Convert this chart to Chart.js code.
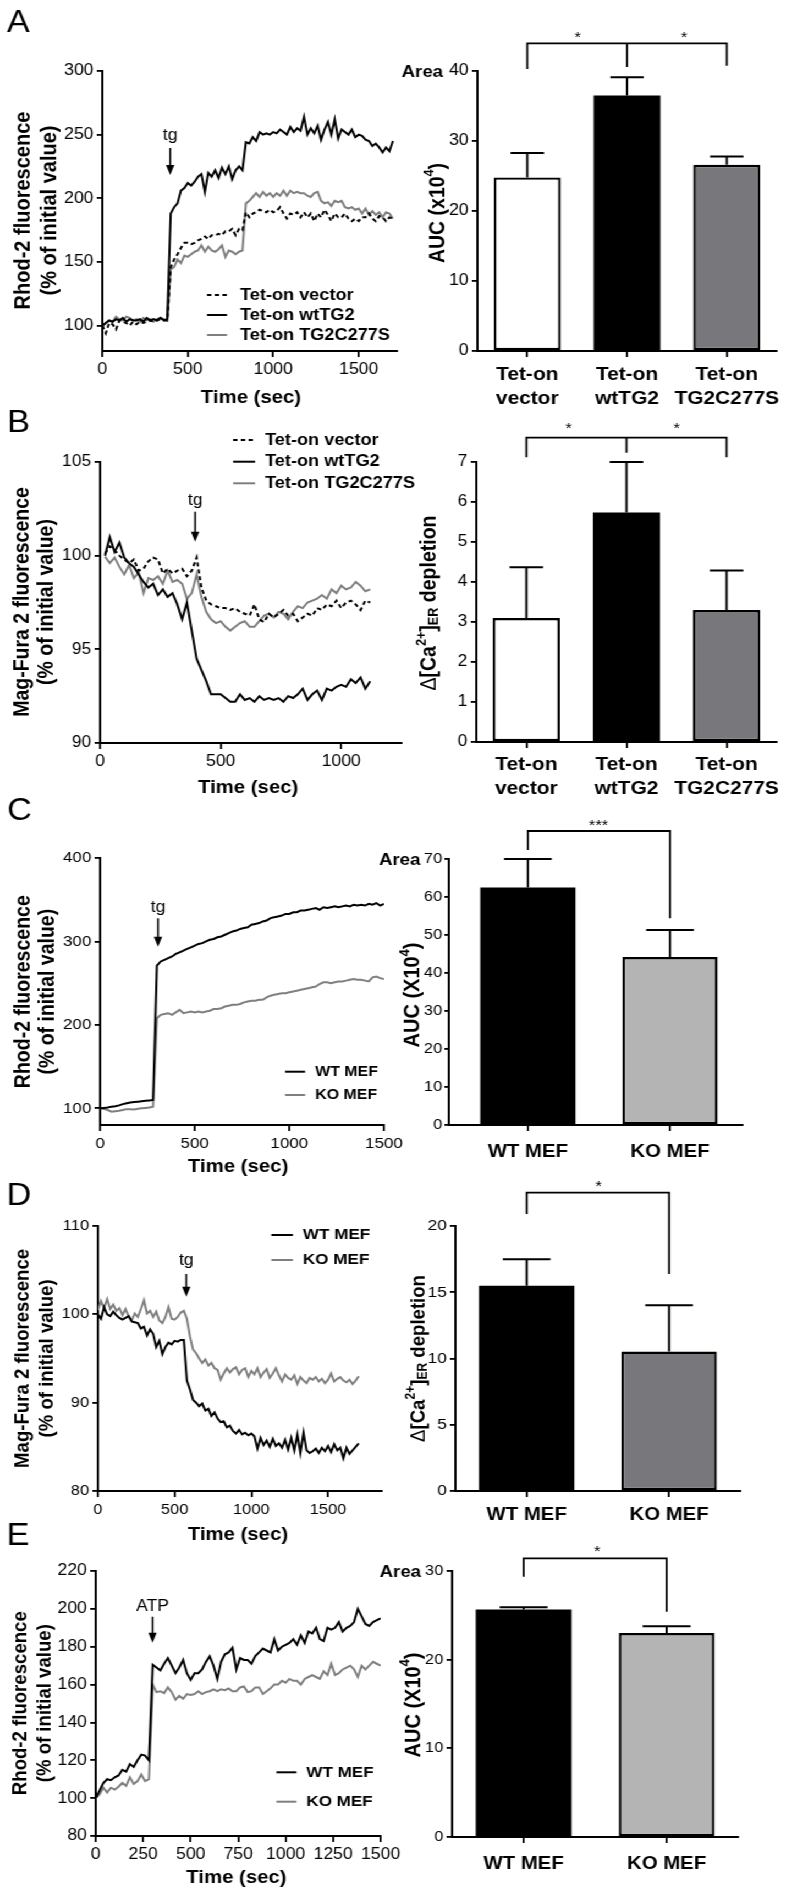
<!DOCTYPE html>
<html><head><meta charset="utf-8">
<script src="https://cdn.jsdelivr.net/npm/chart.js@4.4.1/dist/chart.umd.min.js"></script>
<style>
html,body{margin:0;padding:0;background:#fff;overflow:hidden;width:786px;height:1894px;}
#wrap{position:absolute;left:0;top:0;width:715px;height:1894px;transform:scaleX(1.1);transform-origin:0 0;}
#wrap canvas{position:absolute;}
</style></head><body><div id="wrap"></div>
<script>
// ---------------- DATA ----------------
// Panel A : Rhod-2, Tet-on lines (time from 0 s, every 20 s)
const tStartA = 0, tStepA = 20;
const vectorA = [100,94,102,101,97,104,103,102,100,103,101,103,102,103,104,103,104,105,104,104,146,152,156,161,165,165,164,165,167,168,170,168,171,171,172,171,174,174,176,171,176,175,189,185,188,189,191,190,189,191,189,190,193,188,184,188,187,189,185,189,185,188,182,188,185,191,187,182,188,185,185,188,184,182,184,182,185,185,188,184,182,186,185,182,185,184];
const wtA = [100,102,104,103,105,104,106,103,105,104,104,105,103,106,104,105,104,106,104,105,188,193,196,206,208,212,210,213,217,219,205,220,217,222,216,224,219,225,215,222,225,222,244,243,248,245,252,250,251,250,252,251,254,252,250,256,252,255,253,264,250,255,251,257,246,254,260,250,262,247,254,252,250,254,248,250,249,246,245,241,243,240,236,240,237,245];
const mutA = [99,102,104,103,107,105,104,107,106,104,105,103,106,104,105,103,105,106,105,104,144,146,152,149,155,154,156,158,159,163,158,162,159,158,160,163,154,159,158,156,158,159,196,198,201,204,201,205,202,204,201,204,202,206,202,206,204,205,204,204,202,201,204,205,198,196,197,194,198,197,198,193,192,193,191,192,188,192,187,190,187,189,185,189,188,184];
// Panel B : Mag-Fura 2, Tet-on lines (time from 20 s, every 20 s)
const tStartB = 20, tStepB = 20;
const vectorB = [100.1,100.5,100.3,100.0,99.8,99.6,99.8,99.2,99.3,99.7,99.9,99.8,99.05,99.3,99.05,99.2,99.3,98.9,99.2,99.9,98.3,97.6,97.4,97.3,97.2,97.2,97.1,97.2,97.0,96.9,96.8,97.4,96.6,96.45,96.9,96.7,96.9,97.1,96.8,96.9,96.5,96.7,96.9,96.8,97.2,97.1,97.4,97.3,97.6,97.2,97.5,97.6,97.4,97.1,97.6,97.5];
const wtB = [100.0,101.0,100.2,100.7,99.9,99.6,99.4,99.0,98.6,98.3,98.5,97.9,98.2,97.8,98.0,97.4,96.6,97.5,96.0,94.5,93.9,93.3,92.6,92.6,92.6,92.4,92.2,92.2,92.6,92.3,92.4,92.2,92.5,92.3,92.4,92.3,92.4,92.2,92.5,92.4,92.6,92.9,92.3,92.6,92.8,92.3,92.9,92.8,93.0,93.1,93.0,93.4,93.2,93.5,92.9,93.3];
const mutB = [99.95,99.6,99.9,99.4,99.0,99.5,98.8,99.1,98.0,98.8,98.7,98.9,98.5,99.2,98.6,98.7,98.5,97.7,98.0,99.0,97.8,97.0,96.6,96.4,96.5,96.2,96.0,96.2,96.4,96.5,96.2,96.2,96.5,96.8,96.9,96.7,97.0,96.9,96.6,97.0,97.3,97.2,97.5,97.6,97.7,97.9,97.7,98.2,98.0,98.4,98.2,98.3,98.6,98.4,98.1,98.2];
// Panel C : Rhod-2, MEF (time from 0 s, every 20 s)
const tStartC = 0, tStepC = 20;
const wtC = [100,100.5,101,102,102.5,103.5,105,106,107,107.5,108,108.5,109,109.5,110,271,276,278,280,282,285,287,289,291,293,295,297,298,300,302,303,305,306,308,310,312,313,315,316,317,320,321,322,324,325,328,329,330,331,333,333,335,335,337,337,338,339,340,338,341,340,341,342,341,342,343,342,344,343,344,343,345,344,346,343,345];
const koC = [100,99,98,96,96.5,97,98,99,99,98.5,99.5,100,100.5,101,102,208,212,213,214,212,215,218,214,215,216,215,216,215,216,217,219,219,220,222,223,224,224,225,227,228,229,229,230,230,233,235,236,237,238,238,239,240,241,242,243,244,245,246,249,251,251,250,251,252,252,253,254,255,254,254,253,252,257,258,256,255];
// Panel D : Mag-Fura 2, MEF (time from 0 s, every 20 s)
const tStartD = 0, tStepD = 20;
const wtD = [100.0,99.5,100.8,100.0,99.8,100.3,99.9,99.6,99.4,99.6,99.8,99.2,99.1,99.0,98.4,98.6,97.6,98.3,97.8,96.3,97.0,95.5,96.3,96.8,96.6,97.0,96.9,97.1,97.1,92.5,91.5,90.3,90.0,89.6,89.9,89.1,89.3,88.5,88.9,88.2,87.8,87.9,87.2,87.4,86.8,86.5,86.9,86.4,86.6,86.3,86.5,86.2,84.8,86.0,85.2,85.7,85.0,85.9,85.1,85.4,84.9,85.8,84.7,86.0,84.6,86.4,84.3,86.6,84.6,84.3,84.5,84.8,84.3,84.9,84.5,85.1,84.4,85.3,84.6,84.9,83.7,84.9,84.2,84.6,85.0,85.4];
const koD = [100.5,101.5,100.7,101.7,100.6,101.1,100.4,100.7,99.9,100.6,99.8,99.3,100.1,99.7,100.6,101.6,100.1,100.4,99.7,100.3,99.3,99.0,99.7,100.8,99.5,99.4,99.7,100.2,100.4,99.5,97.5,96.0,95.6,95.0,94.5,94.9,94.2,94.5,93.9,93.7,92.6,93.3,93.9,93.4,93.8,94.0,93.2,93.7,93.9,92.9,93.6,93.2,93.9,92.9,93.4,93.8,92.8,93.3,93.9,93.1,92.4,93.2,92.8,92.6,93.1,92.1,92.9,92.5,92.2,92.8,92.6,92.9,92.4,92.7,92.2,92.6,93.3,92.4,92.7,92.9,92.5,92.3,92.6,92.1,92.5,93.0];
// Panel E : Rhod-2, ATP, MEF (time from 0 s, every 20 s)
const tStartE = 0, tStepE = 20;
const wtE = [100,104,108,110,109.5,111,112,115,114,118,116.5,120,123,122.5,120,170.5,169,167.5,171,174,170,166,169,173,166,162.5,166,166,168,172,175,170,163,172,176,177,179.5,168,174,173,173,171,175,177,179,178,177,184,178,180,181,182,184,181,186,182,188,187,190,184,183,190,189,190,193,188,190,191,193,200,196,192,191,193,194,195];
const koE = [100,102,105.5,103,105.5,104.5,106,108,106.5,111,107.5,109,112.5,109,110,160,156,156.5,155.5,158.5,156,152,154,152.5,155,154.5,155,156.5,155,156,156.5,157.5,156.5,157.5,157,158,156.5,156.5,158.5,159,156,156.5,158.5,158.5,155,156.5,158,160,160,162,161,163,162,162,160,163,164,165,164,163,167,165,171,165,166,168,169,170,168,164,170,168,170,172,171,170];

// Bar data
const catsTet = [['Tet-on','vector'],['Tet-on','wtTG2'],['Tet-on','TG2C277S']];
const catsMEF = ['WT MEF','KO MEF'];
const aucA = [24.8, 36.5, 26.6];      const aucAErr = [3.5, 2.6, 1.2];
const depB = [3.1, 5.74, 3.3];        const depBErr = [1.27, 1.26, 0.99];
const aucC = [62.5, 44.2];            const aucCErr = [7.5, 7.1];
const depD = [15.5, 10.52];           const depDErr = [2.0, 3.5];
const aucE = [25.67, 23.0];           const aucEErr = [0.23, 0.78];

// Tick values
const xTicksA = [0,500,1000,1500], yTicksA = [100,150,200,250,300];
const xTicksB = [0,500,1000],      yTicksB = [90,95,100,105];
const xTicksC = [0,500,1000,1500], yTicksC = [100,200,300,400];
const xTicksD = [0,500,1000,1500], yTicksD = [80,90,100,110];
const xTicksE = [0,250,500,750,1000,1250,1500], yTicksE = [80,100,120,140,160,180,200,220];
const yTicksAbar = [0,10,20,30,40], yTicksBbar = [0,1,2,3,4,5,6,7], yTicksCbar = [0,10,20,30,40,50,60,70];
const yTicksDbar = [0,5,10,15,20], yTicksEbar = [0,10,20,30];

// ---------------- RENDER ----------------
const SX = 1.1;
const FF = '"Liberation Sans", Arial, Helvetica, sans-serif';
Chart.defaults.font.family = FF;
Chart.defaults.color = '#000';
const BLACK = '#000000', GRAY = '#7f7f7f';
const PL = 95, PR = 32, PT = 72, PB = 64;

function series(vals, t0, dt) { return vals.map((v, i) => ({x: t0 + i * dt, y: v})); }

function drawText(ctx, t, P, Q) {
  const runs = t.runs || [{s: t.s}];
  const fontOf = r => `${r.w || t.w || 'normal'} ${(r.sup || r.sub) ? t.size * 0.65 : t.size}px ${FF}`;
  let total = 0;
  runs.forEach(r => { ctx.font = fontOf(r); r._w = ctx.measureText(r.s).width; total += r._w; });
  ctx.save();
  ctx.translate(P(t.x), Q(t.y));
  if (t.rot) ctx.rotate(-Math.PI / 2);
  ctx.textBaseline = t.base || 'middle';
  ctx.textAlign = 'left';
  ctx.fillStyle = '#000';
  let x0 = t.align === 'left' ? 0 : t.align === 'right' ? -total : -total / 2;
  runs.forEach(r => {
    ctx.font = fontOf(r);
    const dy = r.sup ? -t.size * 0.38 : r.sub ? t.size * 0.22 : 0;
    ctx.fillText(r.s, x0, dy);
    x0 += r._w;
  });
  ctx.restore();
}

const deco = {
  id: 'deco',
  afterDraw(chart) {
    const o = chart.options.plugins.deco;
    if (!o || !o.on) return;
    const ctx = chart.ctx;
    const P = x => x / SX - o.left, Q = y => y - o.top;
    const xs = chart.scales.x, ys = chart.scales.y;
    ctx.save();
    ctx.fillStyle = '#000'; ctx.strokeStyle = '#000';
    if (o.err) {
      const meta = chart.getDatasetMeta(0);
      const ds = chart.data.datasets[0];
      meta.data.forEach((el, i) => {
        const yp = ys.getPixelForValue(ds.data[i].y + o.err[i]);
        const w = el.width / 4;
        ctx.lineWidth = 2;
        ctx.beginPath();
        ctx.moveTo(el.x, el.y); ctx.lineTo(el.x, yp);
        ctx.moveTo(el.x - w, yp); ctx.lineTo(el.x + w, yp);
        ctx.stroke();
      });
    }
    (o.brackets || []).forEach(b => {
      const xa = xs.getPixelForValue(b.a), xb = xs.getPixelForValue(b.b);
      ctx.lineWidth = 1.8;
      ctx.beginPath();
      ctx.moveTo(xa, Q(b.ya)); ctx.lineTo(xa, Q(b.y)); ctx.lineTo(xb, Q(b.y)); ctx.lineTo(xb, Q(b.yb));
      if (b.m !== undefined) { const xm = xs.getPixelForValue(b.m); ctx.moveTo(xm, Q(b.y)); ctx.lineTo(xm, Q(b.ym)); }
      ctx.stroke();
    });
    (o.arrows || []).forEach(a => {
      const x = xs.getPixelForValue(a.t);
      ctx.font = `${a.size}px ${FF}`; ctx.textAlign = 'center'; ctx.textBaseline = 'alphabetic';
      ctx.fillText(a.label, x, Q(a.ly));
      ctx.lineWidth = 1.6;
      ctx.beginPath(); ctx.moveTo(x, Q(a.y1)); ctx.lineTo(x, Q(a.y2) - 8); ctx.stroke();
      ctx.beginPath(); ctx.moveTo(x - 3.8, Q(a.y2) - 10); ctx.lineTo(x + 3.8, Q(a.y2) - 10); ctx.lineTo(x, Q(a.y2)); ctx.closePath(); ctx.fill();
    });
    if (o.legend) {
      const L = o.legend;
      L.rows.forEach((y, i) => {
        const ds = chart.data.datasets[i];
        ctx.strokeStyle = ds.borderColor; ctx.lineWidth = ds.borderWidth; ctx.setLineDash(ds.borderDash || []);
        ctx.beginPath(); ctx.moveTo(P(L.x1), Q(y)); ctx.lineTo(P(L.x2), Q(y)); ctx.stroke();
        ctx.setLineDash([]);
        ctx.fillStyle = '#000';
        ctx.font = `bold ${L.size}px ${FF}`; ctx.textAlign = 'left'; ctx.textBaseline = 'middle';
        ctx.fillText(ds.label, P(L.tx), Q(y));
      });
    }
    (o.texts || []).forEach(t => drawText(ctx, t, P, Q));
    ctx.restore();
  }
};
Chart.register(deco);

function axis(min, max, ticks, o) {
  return {
    type: 'linear', min, max, offset: false,
    afterBuildTicks: s => { s.ticks = ticks.map(v => ({value: v})); },
    afterFit: o.fit,
    grid: {display: true, offset: false, drawOnChartArea: false, drawTicks: true, tickLength: o.tl, tickWidth: 1.8, tickColor: '#000', color: '#000', lineWidth: 1.8},
    border: {display: true, color: '#000', width: 2},
    ticks: {color: '#000', font: {family: FF, size: o.fs || 16, weight: o.fw || 'normal', lineHeight: 1.25}, padding: o.pad, maxRotation: 0, minRotation: 0, autoSkip: false, callback: o.cb || (v => String(v))}
  };
}

const wrap = document.getElementById('wrap');
function build(spec) {
  const l = spec.L / SX, r = spec.R / SX;
  const pw = Math.round(r - l), ph = Math.round(spec.B - spec.T);
  const left = l - PL, top = Math.round(spec.T) - PT;
  const cv = document.createElement('canvas');
  cv.width = pw + PL + PR; cv.height = ph + PT + PB;
  cv.style.left = left + 'px'; cv.style.top = top + 'px';
  cv.style.width = cv.width + 'px'; cv.style.height = cv.height + 'px';
  wrap.appendChild(cv);
  const d = Object.assign({on: true, left, top}, spec.deco);
  new Chart(cv.getContext('2d'), {
    type: spec.type,
    data: {datasets: spec.datasets},
    options: {
      responsive: false, animation: false, devicePixelRatio: 1,
      layout: {padding: {left: 0, top: PT, right: PR, bottom: 0}},
      plugins: {legend: {display: false}, tooltip: {enabled: false}, deco: d},
      scales: {
        x: axis(spec.xmin, spec.xmax, spec.xt, {tl: 6, pad: spec.xpad || 3, fs: spec.xfs || spec.yfs, fw: spec.xfw, cb: spec.xcb, fit: s => { s.height = PB; }}),
        y: axis(spec.ymin, spec.ymax, spec.yt, {tl: spec.ytl || 5, pad: spec.ypad === undefined ? 3 : spec.ypad, fs: spec.yfs, fit: s => { s.width = PL; }})
      }
    }
  });
}

function lineDs(label, vals, t0, dt, color, dash) {
  return {label, data: series(vals, t0, dt), borderColor: color, borderWidth: 2, borderDash: dash || [], pointRadius: 0, fill: false, tension: 0};
}
function barDs(vals, colors) {
  return {data: vals.map((v, i) => ({x: i, y: v})), backgroundColor: colors, borderColor: '#000',
    borderWidth: colors.map(c => c === '#000000' ? 0 : 2.4), borderSkipped: false, barPercentage: 0.67, categoryPercentage: 1};
}
const ytitle = (s, x, y, size) => ({s, x, y, size, w: 'bold', rot: true});
const letter = (s, y) => ({s, x: 7, y, size: 31, align: 'left', base: 'alphabetic'});
const aucRuns = X => [{s: 'AUC (' + X + '10'}, {s: '4', sup: true}, {s: ')'}];
const caRuns = [{s: 'Δ', w: 'normal'}, {s: '[Ca'}, {s: '2+', sup: true}, {s: ']'}, {s: 'ER', sub: true}, {s: ' depletion'}];

// ---- A line
build({type: 'line', L: 102.3, R: 396.7, T: 70.7, B: 350.4, xmin: 0, xmax: 1725, xt: xTicksA, ymin: 80, ymax: 300, yt: yTicksA, yfs: 16,
  datasets: [lineDs('Tet-on vector', vectorA, tStartA, tStepA, BLACK, [4, 3]), lineDs('Tet-on wtTG2', wtA, tStartA, tStepA, BLACK), lineDs('Tet-on TG2C277S', mutA, tStartA, tStepA, GRAY)],
  deco: {legend: {x1: 207, x2: 227, tx: 240, rows: [295, 315, 335], size: 16.5},
    arrows: [{t: 397, label: 'tg', size: 16, ly: 139.5, y1: 148, y2: 175}],
    texts: [letter('A', 32), ytitle('Rhod-2 fluorescence', 23.7, 210.5, 20), ytitle('(% of initial value)', 50.5, 210.5, 20), {s: 'Time (sec)', x: 251, y: 398, size: 18.5, w: 'bold'}]}});
// ---- A bar
build({type: 'bar', L: 477.3, R: 777, T: 70.7, B: 350.7, xmin: -0.5, xmax: 2.5, xt: [0, 1, 2], ymin: 0, ymax: 40, yt: yTicksAbar, yfs: 16,
  xcb: v => catsTet[v], xfs: 19, xfw: 'bold', xpad: 6,
  datasets: [barDs(aucA, ['#ffffff', '#000000', '#78787c'])],
  deco: {err: aucAErr, brackets: [{a: 0, b: 2, m: 1, y: 43.3, ya: 69, yb: 65.7, ym: 67}],
    texts: [{s: 'Area', x: 443, y: 77.3, size: 17, w: 'bold', align: 'right', base: 'alphabetic'}, {runs: aucRuns('x'), x: 438, y: 213, size: 19.5, w: 'bold', rot: true},
      {s: '*', x: 577.7, y: 37.7, size: 15}, {s: '*', x: 684, y: 37.7, size: 15}]}});
// ---- B line
build({type: 'line', L: 100, R: 401.7, T: 461.7, B: 742.3, xmin: 0, xmax: 1250, xt: xTicksB, ymin: 90, ymax: 105, yt: yTicksB, yfs: 16,
  datasets: [lineDs('Tet-on vector', vectorB, tStartB, tStepB, BLACK, [4, 3]), lineDs('Tet-on wtTG2', wtB, tStartB, tStepB, BLACK), lineDs('Tet-on TG2C277S', mutB, tStartB, tStepB, GRAY)],
  deco: {legend: {x1: 233, x2: 255, tx: 265, rows: [440, 461.7, 483.3], size: 16.5},
    arrows: [{t: 394, label: 'tg', size: 16, ly: 505, y1: 511.7, y2: 541.7}],
    texts: [letter('B', 432), ytitle('Mag-Fura 2 fluorescence', 22.5, 602, 19.5), ytitle('(% of initial value)', 46.7, 602, 19.5), {s: 'Time (sec)', x: 248, y: 788, size: 18.5, w: 'bold'}]}});
// ---- B bar
build({type: 'bar', L: 476.7, R: 777.3, T: 462.3, B: 742.7, xmin: -0.5, xmax: 2.5, xt: [0, 1, 2], ymin: 0, ymax: 7, yt: yTicksBbar, yfs: 16,
  xcb: v => catsTet[v], xfs: 19, xfw: 'bold', xpad: 5,
  datasets: [barDs(depB, ['#ffffff', '#000000', '#78787c'])],
  deco: {err: depBErr, brackets: [{a: 0, b: 2, m: 1, y: 437.7, ya: 457.3, yb: 457.3, ym: 452.7}],
    texts: [{runs: caRuns, x: 430, y: 603, size: 19.5, w: 'bold', rot: true}, {s: '*', x: 569, y: 429, size: 15}, {s: '*', x: 677, y: 429, size: 15}]}});
// ---- C line
build({type: 'line', L: 100, R: 383.3, T: 858.3, B: 1125, xmin: 0, xmax: 1500, xt: xTicksC, ymin: 80, ymax: 400, yt: yTicksC, yfs: 15.5,
  datasets: [lineDs('WT MEF', wtC, tStartC, tStepC, BLACK), lineDs('KO MEF', koC, tStartC, tStepC, GRAY)],
  deco: {legend: {x1: 285, x2: 305, tx: 315, rows: [1071.7, 1095], size: 14.5},
    arrows: [{t: 306, label: 'tg', size: 16, ly: 911.6, y1: 918.3, y2: 946.7}],
    texts: [letter('C', 820), ytitle('Rhod-2 fluorescence', 24.2, 991.7, 19.5), ytitle('(% of initial value)', 47.5, 991.7, 19.5), {s: 'Time (sec)', x: 238, y: 1166.7, size: 18.5, w: 'bold'}]}});
// ---- C bar
build({type: 'bar', L: 448.3, R: 741.7, T: 859.3, B: 1125, xmin: -0.556, xmax: 1.51, xt: [0, 1], ymin: 0, ymax: 70, yt: yTicksCbar, yfs: 15, ytl: 4, ypad: 2,
  xcb: v => catsMEF[v], xfs: 18.5, xfw: 'bold', xpad: 9,
  datasets: [barDs(aucC, ['#000000', '#b4b4b4'])],
  deco: {err: aucCErr, brackets: [{a: 0, b: 1, y: 831, ya: 850, yb: 918.3}],
    texts: [{s: 'Area', x: 420, y: 865, size: 17, w: 'bold', align: 'right', base: 'alphabetic'}, {runs: aucRuns('X'), x: 413, y: 995, size: 20, w: 'bold', rot: true},
      {s: '***', x: 598, y: 825.7, size: 15}]}});
// ---- D line
build({type: 'line', L: 98.3, R: 382.3, T: 1225.7, B: 1491, xmin: 0, xmax: 1850, xt: xTicksD, ymin: 80, ymax: 110, yt: yTicksD, yfs: 15,
  datasets: [lineDs('WT MEF', wtD, tStartD, tStepD, BLACK), lineDs('KO MEF', koD, tStartD, tStepD, GRAY)],
  deco: {legend: {x1: 271.7, x2: 293.3, tx: 303.3, rows: [1235, 1260], size: 15.5},
    arrows: [{t: 576, label: 'tg', size: 16, ly: 1265, y1: 1274, y2: 1296.7}],
    texts: [letter('D', 1205), ytitle('Mag-Fura 2 fluorescence', 23.3, 1358.4, 18.6), ytitle('(% of initial value)', 47.5, 1358.4, 18.6), {s: 'Time (sec)', x: 238.3, y: 1535, size: 18.5, w: 'bold'}]}});
// ---- D bar
build({type: 'bar', L: 455, R: 740, T: 1226, B: 1491.3, xmin: -0.5, xmax: 1.5, xt: [0, 1], ymin: 0, ymax: 20, yt: yTicksDbar, yfs: 15.5,
  xcb: v => catsMEF[v], xfs: 18.5, xfw: 'bold', xpad: 6,
  datasets: [barDs(depD, ['#000000', '#78787c'])],
  deco: {err: depDErr, brackets: [{a: 0, b: 1, y: 1192.7, ya: 1214, yb: 1274}],
    texts: [{runs: caRuns, x: 418.3, y: 1358.5, size: 18.6, w: 'bold', rot: true}, {s: '*', x: 598.3, y: 1186.7, size: 15}]}});
// ---- E line
build({type: 'line', L: 96, R: 380.7, T: 1570.7, B: 1835.7, xmin: 0, xmax: 1500, xt: xTicksE, ymin: 80, ymax: 220, yt: yTicksE, yfs: 16,
  datasets: [lineDs('WT MEF', wtE, tStartE, tStepE, BLACK), lineDs('KO MEF', koE, tStartE, tStepE, GRAY)],
  deco: {legend: {x1: 276.7, x2: 296.7, tx: 306.7, rows: [1772.3, 1801.7], size: 15.5},
    arrows: [{t: 299, label: 'ATP', size: 16, ly: 1610.7, y1: 1616.7, y2: 1642.7}],
    texts: [letter('E', 1545), ytitle('Rhod-2 fluorescence', 20.8, 1703.2, 18.6), ytitle('(% of initial value)', 45.8, 1703.2, 18.6), {s: 'Time (sec)', x: 236.7, y: 1878.3, size: 18.5, w: 'bold'}]}});
// ---- E bar
build({type: 'bar', L: 451.7, R: 737.3, T: 1571, B: 1836.7, xmin: -0.5, xmax: 1.5, xt: [0, 1], ymin: 0, ymax: 30, yt: yTicksEbar, yfs: 15,
  xcb: v => catsMEF[v], xfs: 18.5, xfw: 'bold', xpad: 9,
  datasets: [barDs(aucE, ['#000000', '#b4b4b4'])],
  deco: {err: aucEErr, brackets: [{a: 0, b: 1, y: 1558.3, ya: 1576.7, yb: 1611.7}],
    texts: [{s: 'Area', x: 420.7, y: 1576.7, size: 17, w: 'bold', align: 'right', base: 'alphabetic'}, {runs: aucRuns('X'), x: 413.3, y: 1705, size: 20, w: 'bold', rot: true},
      {s: '*', x: 596.7, y: 1552, size: 15}]}});
</script></body></html>
